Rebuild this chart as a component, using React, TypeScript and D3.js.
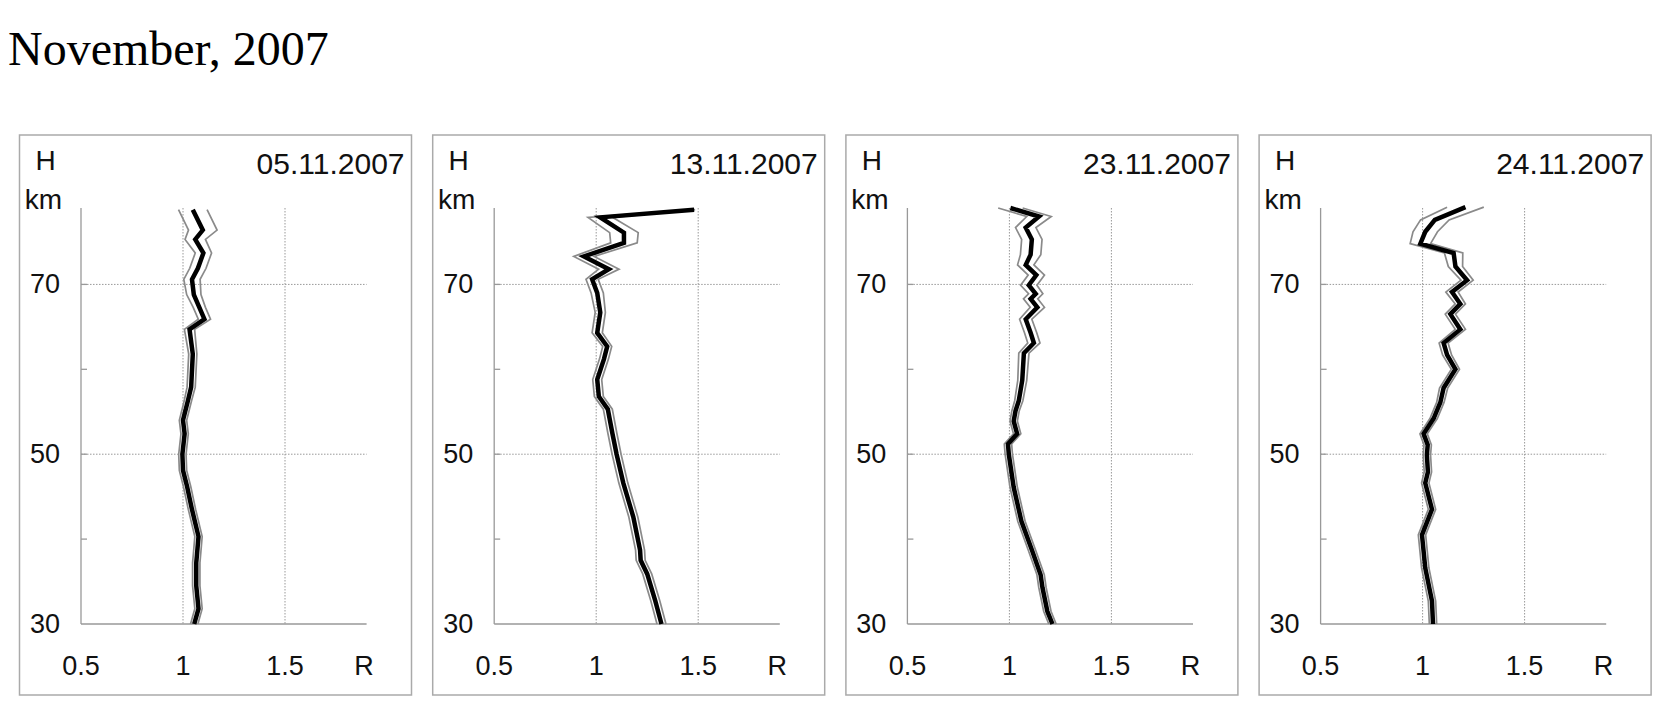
import React from 'react';
import * as d3 from 'd3';

const TITLE = 'November, 2007';
const DATES = ['05.11.2007', '13.11.2007', '23.11.2007', '24.11.2007'];
const X_TICKS = [0.5, 1, 1.5];
const X_TICK_LABELS = ['0.5', '1', '1.5'];
const X_GRID = [1, 1.5];
const Y_TICKS = [70, 50, 30];
const Y_GRID = [70, 50];
const Y_MINOR = [60, 40];
const X_DOMAIN = [0.5, 1.9];
const Y_DOMAIN = [30, 79];

// Panel 1: 05.11.2007
const H1 = [78.8, 76.4, 75.3, 73.7, 71.9, 70.6, 68.8, 67.3, 65.9, 64.7, 61.8, 57.9, 56.3, 54.0, 52.4, 50.0, 48.1, 46.2, 43.5, 40.3, 38.6, 37.2, 34.5, 31.8, 30.0];
const R1 = [1.048, 1.097, 1.06, 1.1, 1.073, 1.044, 1.053, 1.08, 1.105, 1.032, 1.048, 1.04, 1.024, 1.0, 1.008, 0.997, 1.0, 1.02, 1.044, 1.076, 1.07, 1.065, 1.065, 1.076, 1.055];
const E1 = [0.07, 0.07, 0.05, 0.04, 0.04, 0.04, 0.035, 0.03, 0.03, 0.025, 0.02, 0.02, 0.018, 0.018, 0.018, 0.018, 0.018, 0.018, 0.018, 0.018, 0.018, 0.018, 0.018, 0.018, 0.018];

// Panel 2: 13.11.2007
const H2 = [78.8, 77.9, 76.1, 74.9, 73.3, 71.8, 70.6, 69.0, 66.7, 64.3, 62.7, 61.2, 58.8, 56.8, 55.3, 52.5, 50.0, 46.6, 42.6, 38.7, 37.5, 35.9, 32.7, 30.0];
const R2 = [1.48, 1.02, 1.136, 1.136, 0.94, 1.062, 0.98, 1.005, 1.02, 1.005, 1.054, 1.038, 1.005, 1.013, 1.057, 1.079, 1.1, 1.133, 1.182, 1.215, 1.218, 1.25, 1.29, 1.32];
const E2 = [0.005, 0.06, 0.07, 0.065, 0.05, 0.05, 0.03, 0.03, 0.025, 0.025, 0.022, 0.022, 0.022, 0.022, 0.022, 0.022, 0.022, 0.022, 0.022, 0.022, 0.022, 0.022, 0.022, 0.022];

// Panel 3: 23.11.2007
const H3 = [79.0, 78.0, 76.7, 75.3, 73.5, 72.3, 71.1, 69.9, 68.9, 68.3, 67.3, 65.9, 64.3, 63.1, 61.9, 58.7, 56.3, 55.1, 53.9, 52.4, 51.2, 50.0, 46.1, 42.1, 38.6, 35.8, 34.3, 31.5, 30.0];
const R3 = [1.005, 1.145, 1.08, 1.11, 1.104, 1.08, 1.132, 1.095, 1.129, 1.104, 1.137, 1.08, 1.104, 1.12, 1.071, 1.063, 1.046, 1.03, 1.021, 1.038, 0.993, 0.997, 1.021, 1.059, 1.112, 1.153, 1.162, 1.186, 1.211];
const E3 = [0.06, 0.06, 0.05, 0.05, 0.05, 0.04, 0.04, 0.04, 0.035, 0.035, 0.035, 0.03, 0.03, 0.03, 0.025, 0.022, 0.02, 0.018, 0.018, 0.018, 0.018, 0.018, 0.018, 0.018, 0.018, 0.018, 0.018, 0.018, 0.018];

// Panel 4: 24.11.2007
const H4 = [79.1, 77.6, 76.2, 74.8, 73.7, 72.1, 70.5, 69.1, 67.7, 66.5, 64.7, 63.1, 61.7, 60.0, 57.8, 56.1, 54.2, 52.4, 51.1, 49.9, 47.9, 46.6, 43.5, 40.5, 36.6, 32.7, 30.0];
const R4 = [1.21, 1.06, 1.013, 0.989, 1.152, 1.161, 1.218, 1.144, 1.185, 1.136, 1.185, 1.103, 1.12, 1.161, 1.103, 1.087, 1.054, 1.005, 1.025, 1.021, 1.026, 1.013, 1.046, 0.997, 1.013, 1.046, 1.051];
const E4 = [0.09, 0.07, 0.06, 0.05, 0.045, 0.035, 0.03, 0.03, 0.025, 0.025, 0.025, 0.022, 0.022, 0.02, 0.02, 0.018, 0.018, 0.018, 0.018, 0.018, 0.018, 0.018, 0.018, 0.018, 0.018, 0.018, 0.018];

const PROFILES = [
  { h: H1, r: R1, e: E1 },
  { h: H2, r: R2, e: E2 },
  { h: H3, r: R3, e: E3 },
  { h: H4, r: R4, e: E4 },
];

const SANS = 'Liberation Sans, Arial, Helvetica, sans-serif';

function Panel({ index }: { index: number }) {
  const left = 19.5 + index * 413.2;
  const boxTop = 135;
  const boxW = 392;
  const boxH = 560;
  const axisX = left + 61.5;
  const x = d3.scaleLinear().domain(X_DOMAIN).range([axisX, axisX + 285.6]);
  const y = d3.scaleLinear().domain(Y_DOMAIN).range([624, 208]);
  const p = PROFILES[index];
  const pts = p.h.map((h, i) => ({ h, r: p.r[i], e: p.e[i] }));
  const line = d3.line<{ h: number; v: number }>().x((d) => x(d.v)).y((d) => y(d.h));
  const mid = line(pts.map((d) => ({ h: d.h, v: d.r }))) || '';
  const lo = line(pts.map((d) => ({ h: d.h, v: d.r - d.e }))) || '';
  const hi = line(pts.map((d) => ({ h: d.h, v: d.r + d.e }))) || '';
  const [y0, y1] = Y_DOMAIN;
  const xMax = X_DOMAIN[1];
  return (
    <g>
      <rect x={left} y={boxTop} width={boxW} height={boxH} fill="#fff" stroke="#aaa" strokeWidth={1.5} />
      {X_GRID.map((v) => (
        <line key={'xg' + v} x1={x(v)} x2={x(v)} y1={y(y1)} y2={y(y0)} stroke="#999" strokeWidth={1} strokeDasharray="1.5,1.5" />
      ))}
      {Y_GRID.map((v) => (
        <line key={'yg' + v} x1={x(X_DOMAIN[0])} x2={x(xMax)} y1={y(v)} y2={y(v)} stroke="#999" strokeWidth={1} strokeDasharray="1.5,1.5" />
      ))}
      <line x1={axisX} x2={axisX} y1={y(y1)} y2={y(y0)} stroke="#999" strokeWidth={1.3} />
      <line x1={axisX} x2={x(xMax)} y1={y(y0)} y2={y(y0)} stroke="#999" strokeWidth={1.3} />
      {[...Y_GRID, ...Y_MINOR].map((v) => (
        <line key={'yt' + v} x1={axisX} x2={axisX + 6} y1={y(v)} y2={y(v)} stroke="#999" strokeWidth={1.3} />
      ))}
      <path d={lo} fill="none" stroke="#8a8a8a" strokeWidth={1.7} strokeLinejoin="miter" />
      <path d={hi} fill="none" stroke="#8a8a8a" strokeWidth={1.7} strokeLinejoin="miter" />
      <path d={mid} fill="none" stroke="#000" strokeWidth={4.5} strokeLinejoin="miter" />
      <text x={left + 26} y={160} fontFamily={SANS} fontSize={28} textAnchor="middle" dominantBaseline="central" fill="#111">H</text>
      <text x={left + 24} y={199} fontFamily={SANS} fontSize={28} textAnchor="middle" dominantBaseline="central" fill="#111">km</text>
      <text x={left + 385} y={163} fontFamily={SANS} fontSize={30} textAnchor="end" dominantBaseline="central" fill="#111">{DATES[index]}</text>
      {Y_TICKS.map((v) => (
        <text key={'yl' + v} x={axisX - 21} y={y(v)} fontFamily={SANS} fontSize={27} textAnchor="end" dominantBaseline="central" fill="#111">{String(v)}</text>
      ))}
      {X_TICKS.map((v, i) => (
        <text key={'xl' + v} x={x(v)} y={666} fontFamily={SANS} fontSize={27} textAnchor="middle" dominantBaseline="central" fill="#111">{X_TICK_LABELS[i]}</text>
      ))}
      <text x={axisX + 283} y={666} fontFamily={SANS} fontSize={27} textAnchor="middle" dominantBaseline="central" fill="#111">R</text>
    </g>
  );
}

export default function App() {
  return (
    <svg width={1664} height={711} style={{ position: 'absolute', left: 0, top: 0, background: '#fff' }}>
      <rect x={0} y={0} width={1664} height={711} fill="#fff" />
      <text x={8} y={65} fontFamily="Liberation Serif, Times New Roman, serif" fontSize={48} fill="#000">{TITLE}</text>
      {[0, 1, 2, 3].map((i) => (
        <Panel key={i} index={i} />
      ))}
    </svg>
  );
}
